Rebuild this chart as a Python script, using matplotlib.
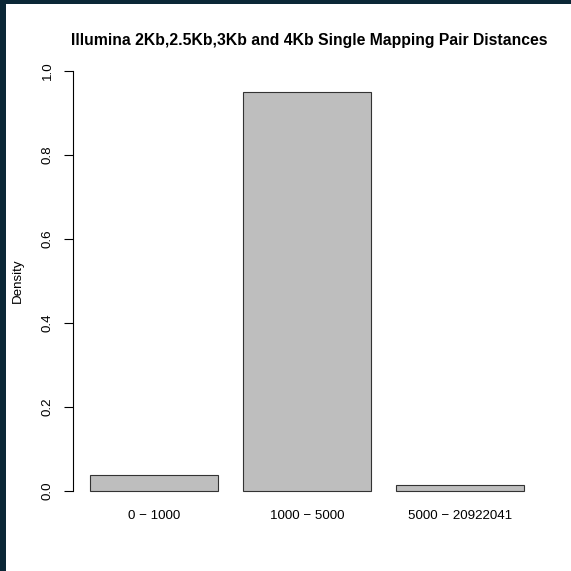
import matplotlib
matplotlib.use('Agg')
import matplotlib.pyplot as plt
from matplotlib.patches import Rectangle

# bar heights
categories = ['0 \u2212 1000', '1000 \u2212 5000', '5000 \u2212 20922041']
density = [0.038, 0.949, 0.015]
yticks = [0.0, 0.2, 0.4, 0.6, 0.8, 1.0]

plt.rcParams['font.family'] = ['Liberation Sans', 'DejaVu Sans']

W = 571
fig = plt.figure(figsize=(W / 100, W / 100), dpi=100)
fig.patch.set_facecolor('white')

# dark strips of the page behind the plot
fig.patches.append(Rectangle((0, 0), 6 / W, 1, transform=fig.transFigure,
                             facecolor='#0b2736', edgecolor='none', zorder=0))
fig.patches.append(Rectangle((0, 1 - 4 / W), 1, 4 / W, transform=fig.transFigure,
                             facecolor='#0b2736', edgecolor='none', zorder=0))

ax = fig.add_axes([73 / W, (W - 507.8) / W, (545 - 73) / W, (507.8 - 54.2) / W])
ax.set_facecolor('white')

# R barplot layout: width 1, space 0.2
centers = [0.7 + 1.2 * i for i in range(len(density))]
ax.bar(centers, density, width=1.0, color='#bebebe', edgecolor='#333333', linewidth=0.8)

ax.set_xlim(0.067, 0.2 + (545 - 90) / 127.7)
ax.set_ylim(-0.04, 1.04)

for s in ['top', 'right', 'bottom']:
    ax.spines[s].set_visible(False)
ax.spines['left'].set_bounds(0, 1)
ax.spines['left'].set_linewidth(0.8)

ax.set_yticks(yticks)
ax.set_yticklabels([f'{v:.1f}' for v in yticks], rotation=90, va='center', fontsize=9.6)
ax.tick_params(axis='y', length=6.5, width=0.8, pad=7.5)

ax.set_xticks(centers)
ax.set_xticklabels(categories, fontsize=9.6)
ax.tick_params(axis='x', length=0, pad=1.5)

fig.text(18 / W, 1 - 281 / W, 'Density', rotation=90, ha='center', va='center', fontsize=9.6)
fig.text(309 / W, 1 - 40 / W, 'Illumina 2Kb,2.5Kb,3Kb and 4Kb Single Mapping Pair Distances',
         ha='center', va='center', fontsize=11.3, fontweight='bold')

fig.savefig('out.png', dpi=100)
